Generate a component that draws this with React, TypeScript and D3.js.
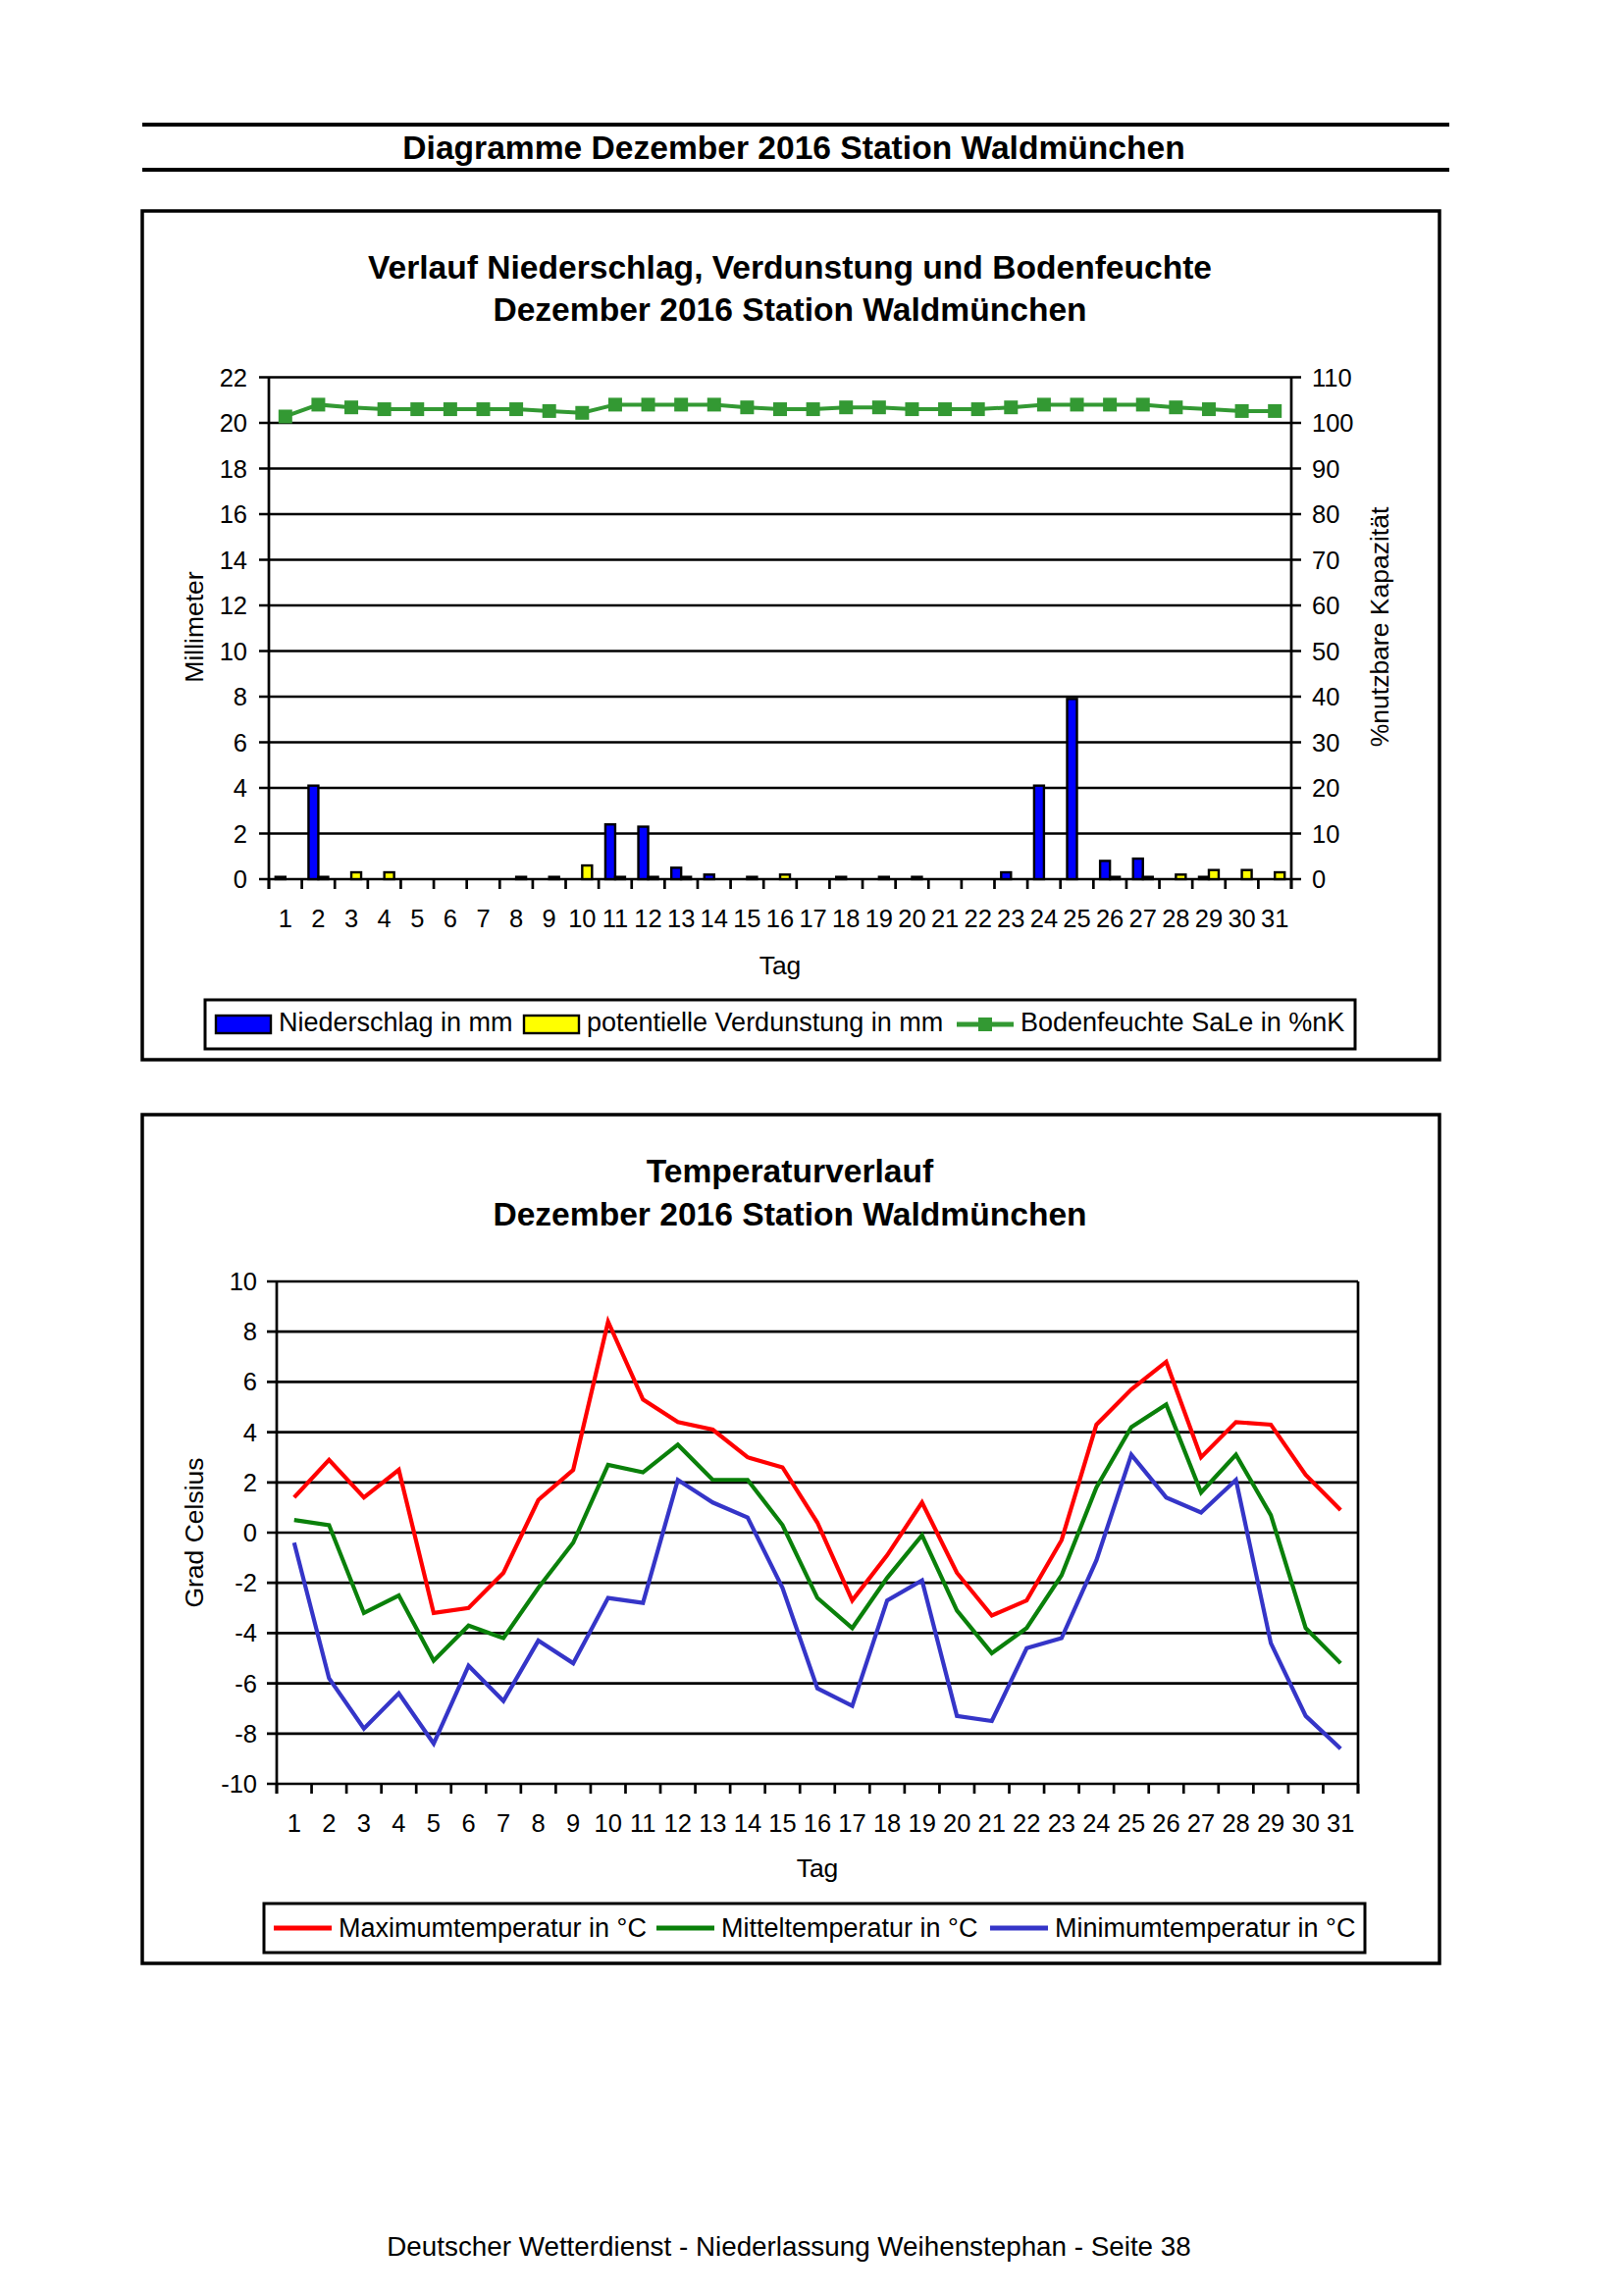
import React from "react";
import * as d3 from "d3";

const days = d3.range(1, 32).map(String);
const niederschlag = [0.1, 4.1, 0, 0, 0, 0, 0, 0, 0, 0, 2.4, 2.3, 0.5, 0.2, 0, 0, 0, 0.1, 0, 0, 0, 0, 0.3, 4.1, 7.9, 0.8, 0.9, 0, 0.1, 0, 0];
const verdunstung = [0, 0.1, 0.3, 0.3, 0, 0, 0, 0.1, 0.1, 0.6, 0.1, 0.1, 0.1, 0, 0.1, 0.2, 0, 0, 0.1, 0.1, 0, 0, 0, 0, 0, 0.1, 0.1, 0.2, 0.4, 0.4, 0.3];
const bodenfeuchte = [101.4, 104.0, 103.4, 103.0, 103.0, 103.0, 103.0, 103.0, 102.6, 102.2, 104.0, 104.0, 104.0, 104.0, 103.4, 103.0, 103.0, 103.4, 103.4, 103.0, 103.0, 103.0, 103.4, 104.0, 104.0, 104.0, 104.0, 103.4, 103.0, 102.6, 102.6];
const tMax = [1.4, 2.9, 1.4, 2.5, -3.2, -3.0, -1.6, 1.3, 2.5, 8.4, 5.3, 4.4, 4.1, 3.0, 2.6, 0.4, -2.7, -0.9, 1.2, -1.6, -3.3, -2.7, -0.3, 4.3, 5.7, 6.8, 3.0, 4.4, 4.3, 2.3, 0.9];
const tMit = [0.5, 0.3, -3.2, -2.5, -5.1, -3.7, -4.2, -2.2, -0.4, 2.7, 2.4, 3.5, 2.1, 2.1, 0.3, -2.6, -3.8, -1.8, -0.1, -3.1, -4.8, -3.8, -1.7, 1.8, 4.2, 5.1, 1.6, 3.1, 0.7, -3.8, -5.2];
const tMin = [-0.4, -5.8, -7.8, -6.4, -8.4, -5.3, -6.7, -4.3, -5.2, -2.6, -2.8, 2.1, 1.2, 0.6, -2.2, -6.2, -6.9, -2.7, -1.9, -7.3, -7.5, -4.6, -4.2, -1.1, 3.1, 1.4, 0.8, 2.1, -4.4, -7.3, -8.6];
const mmTicks = d3.range(0, 23, 2);
const pctTicks = d3.range(0, 111, 10);
const tempTicks = d3.range(-10, 11, 2);

const FONT = "'Liberation Sans', Arial, Helvetica, sans-serif";

export default function App() {
  // ---------- Chart 1 ----------
  const x1 = d3.scaleBand<string>().domain(days).range([274, 1316]).padding(0);
  const inner = d3.scaleBand<string>().domain(["n", "v"]).range([0, x1.bandwidth()]).paddingInner(0).paddingOuter(0.68);
  const yL = d3.scaleLinear().domain([0, 22]).range([896, 384.5]);
  const yR = d3.scaleLinear().domain([0, 110]).range([896, 384.5]);
  const soilLine = d3.line<number>()
    .x((_, i) => (x1(days[i]) as number) + x1.bandwidth() / 2)
    .y((v) => yR(v));

  // ---------- Chart 2 ----------
  const x2 = d3.scaleBand<string>().domain(days).range([282, 1384]).padding(0);
  const y2 = d3.scaleLinear().domain([-10, 10]).range([1818, 1306]);
  const tLine = d3.line<number>()
    .x((_, i) => (x2(days[i]) as number) + x2.bandwidth() / 2)
    .y((v) => y2(v));

  const series = [
    { name: "Maximumtemperatur in °C", data: tMax, color: "#FF0000" },
    { name: "Mitteltemperatur in °C", data: tMit, color: "#0A800A" },
    { name: "Minimumtemperatur in °C", data: tMin, color: "#3535C8" },
  ];
  const legend2X = [279, 669, 1009];

  const bound1 = d3.range(0, 32).map((i) => 274 + i * x1.step());
  const bound2 = d3.range(0, 32).map((i) => 282 + i * x2.step());

  return (
    <div style={{ position: "absolute", left: 0, top: 0 }}>
      <svg width={1653} height={2340} style={{ display: "block", background: "#fff" }} fontFamily={FONT}>
        <rect x={0} y={0} width={1653} height={2340} fill="#fff" />
        {/* Page heading */}
        <line x1={145} x2={1477} y1={127} y2={127} stroke="#000" strokeWidth={4} />
        <line x1={145} x2={1477} y1={173} y2={173} stroke="#000" strokeWidth={4} />
        <text x={809} y={162} textAnchor="middle" fontSize={33.6} fontWeight="bold">Diagramme Dezember 2016 Station Waldmünchen</text>

        {/* ================= Chart 1 ================= */}
        <rect x={145} y={215} width={1322} height={865} fill="none" stroke="#000" strokeWidth={3.5} />
        <text x={805} y={284} textAnchor="middle" fontSize={33.6} fontWeight="bold">Verlauf Niederschlag, Verdunstung und Bodenfeuchte</text>
        <text x={805} y={327} textAnchor="middle" fontSize={33.6} fontWeight="bold">Dezember 2016 Station Waldmünchen</text>

        {/* gridlines + ticks */}
        {mmTicks.map((t) => (
          <line key={"g1" + t} x1={264} x2={1326} y1={yL(t)} y2={yL(t)} stroke="#000" strokeWidth={2.7} />
        ))}
        {/* axes */}
        <line x1={274} x2={274} y1={384.5} y2={906} stroke="#000" strokeWidth={2.7} />
        <line x1={1316} x2={1316} y1={384.5} y2={906} stroke="#000" strokeWidth={2.7} />
        {bound1.map((bx, i) => (
          <line key={"xt1" + i} x1={bx} x2={bx} y1={896} y2={906} stroke="#000" strokeWidth={2.7} />
        ))}
        {/* bars */}
        {days.map((d, i) => (
          <g key={"b" + d}>
            {niederschlag[i] > 0 && (
              <rect
                x={(x1(d) as number) + (inner("n") as number)}
                y={yL(niederschlag[i])}
                width={inner.bandwidth()}
                height={yL(0) - yL(niederschlag[i])}
                fill="#0000FF"
                stroke="#000"
                strokeWidth={2.4}
              />
            )}
            {verdunstung[i] > 0 && (
              <rect
                x={(x1(d) as number) + (inner("v") as number)}
                y={yL(verdunstung[i])}
                width={inner.bandwidth()}
                height={yL(0) - yL(verdunstung[i])}
                fill="#FFFF00"
                stroke="#000"
                strokeWidth={2.4}
              />
            )}
          </g>
        ))}
        {/* soil moisture */}
        <path d={soilLine(bodenfeuchte) || ""} fill="none" stroke="#339933" strokeWidth={4} />
        {bodenfeuchte.map((v, i) => (
          <rect
            key={"m" + i}
            x={(x1(days[i]) as number) + x1.bandwidth() / 2 - 7}
            y={yR(v) - 7}
            width={14}
            height={14}
            fill="#339933"
          />
        ))}
        {/* tick labels */}
        {mmTicks.map((t) => (
          <text key={"l1" + t} x={252} y={yL(t)} textAnchor="end" dominantBaseline="central" fontSize={25.5}>{t}</text>
        ))}
        {pctTicks.map((t) => (
          <text key={"r1" + t} x={1337} y={yR(t)} textAnchor="start" dominantBaseline="central" fontSize={25.5}>{t}</text>
        ))}
        {days.map((d) => (
          <text key={"x1" + d} x={(x1(d) as number) + x1.bandwidth() / 2} y={945} textAnchor="middle" fontSize={25.5}>{d}</text>
        ))}
        <text x={795} y={993} textAnchor="middle" fontSize={26.5}>Tag</text>
        <text transform="translate(207,639) rotate(-90)" textAnchor="middle" fontSize={26.5}>Millimeter</text>
        <text transform="translate(1415,639) rotate(-90)" textAnchor="middle" fontSize={26.5}>%nutzbare Kapazität</text>

        {/* legend 1 */}
        <rect x={209} y={1019} width={1172} height={50} fill="#fff" stroke="#000" strokeWidth={3} />
        <rect x={220} y={1035} width={56} height={18} fill="#0000FF" stroke="#000" strokeWidth={2.4} />
        <text x={284} y={1051} fontSize={27}>Niederschlag in mm</text>
        <rect x={534} y={1035} width={56} height={18} fill="#FFFF00" stroke="#000" strokeWidth={2.4} />
        <text x={598} y={1051} fontSize={27}>potentielle Verdunstung in mm</text>
        <line x1={975} x2={1033} y1={1044} y2={1044} stroke="#339933" strokeWidth={5} />
        <rect x={997} y={1037} width={14} height={14} fill="#339933" />
        <text x={1040} y={1051} fontSize={27}>Bodenfeuchte SaLe in %nK</text>

        {/* ================= Chart 2 ================= */}
        <rect x={145} y={1136} width={1322} height={865} fill="none" stroke="#000" strokeWidth={3.5} />
        <text x={805} y={1205} textAnchor="middle" fontSize={33.6} fontWeight="bold">Temperaturverlauf</text>
        <text x={805} y={1249} textAnchor="middle" fontSize={33.6} fontWeight="bold">Dezember 2016 Station Waldmünchen</text>

        {tempTicks.map((t) => (
          <line key={"g2" + t} x1={272} x2={1384} y1={y2(t)} y2={y2(t)} stroke="#000" strokeWidth={2.7} />
        ))}
        <line x1={282} x2={282} y1={1306} y2={1828} stroke="#000" strokeWidth={2.7} />
        <line x1={1384} x2={1384} y1={1306} y2={1828} stroke="#000" strokeWidth={2.7} />
        {bound2.map((bx, i) => (
          <line key={"xt2" + i} x1={bx} x2={bx} y1={1818} y2={1828} stroke="#000" strokeWidth={2.7} />
        ))}
        {series.map((s) => (
          <path key={s.name} d={tLine(s.data) || ""} fill="none" stroke={s.color} strokeWidth={4.2} strokeLinejoin="miter" />
        ))}
        {tempTicks.map((t) => (
          <text key={"l2" + t} x={262} y={y2(t)} textAnchor="end" dominantBaseline="central" fontSize={25.5}>{t}</text>
        ))}
        {days.map((d) => (
          <text key={"x2" + d} x={(x2(d) as number) + x2.bandwidth() / 2} y={1867} textAnchor="middle" fontSize={25.5}>{d}</text>
        ))}
        <text x={833} y={1913} textAnchor="middle" fontSize={26.5}>Tag</text>
        <text transform="translate(207,1562) rotate(-90)" textAnchor="middle" fontSize={26.5}>Grad Celsius</text>

        {/* legend 2 */}
        <rect x={269} y={1940} width={1122} height={50} fill="#fff" stroke="#000" strokeWidth={3} />
        {series.map((s, i) => (
          <g key={"lg" + i}>
            <line x1={legend2X[i]} x2={legend2X[i] + 59} y1={1965} y2={1965} stroke={s.color} strokeWidth={5} />
            <text x={legend2X[i] + 66} y={1974} fontSize={27}>{s.name}</text>
          </g>
        ))}

        {/* footer */}
        <text x={804} y={2299} textAnchor="middle" fontSize={27.8}>Deutscher Wetterdienst - Niederlassung Weihenstephan - Seite 38</text>
      </svg>
    </div>
  );
}
